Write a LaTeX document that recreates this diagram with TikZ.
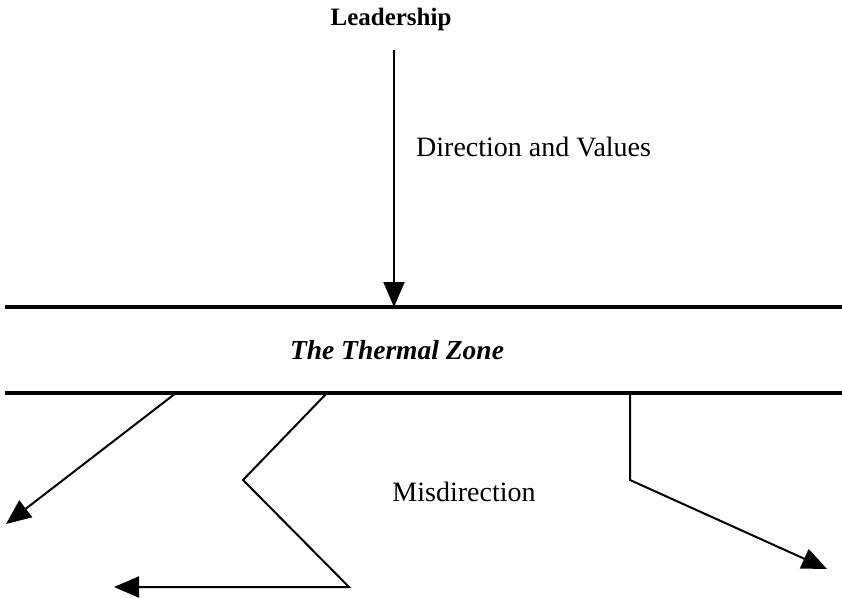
\documentclass[tikz,border=0pt]{standalone}
\usepackage{fontspec}
\setmainfont{Liberation Serif}
\usetikzlibrary{arrows.meta}

\begin{document}
\begin{tikzpicture}[x=1pt, y=-1pt, >={Triangle[length=25pt,width=21pt]},
    every node/.style={font=\fontsize{28}{32}\selectfont, inner sep=0pt},
    arrowline/.style={line width=2pt, line join=miter},
    zoneline/.style={line width=4pt}]
    \useasboundingbox (0,0) rectangle (842,597);

    \node[font=\bfseries\fontsize{25}{29}\selectfont] (lead) at (391,19) {Leadership};
    \node[anchor=west] (values) at (416,147) {Direction and Values};
    \node[font=\bfseries\itshape\fontsize{27.5}{31}\selectfont] (zone) at (397,350) {The Thermal Zone};
    \node (mis) at (464,492) {Misdirection};

    % the two borders of the zone
    \coordinate (topL) at (5,307);
    \coordinate (topR) at (842,307);
    \coordinate (botL) at (5,393);
    \coordinate (botR) at (842,393);
    \draw[zoneline] (topL) -- (topR);
    \draw[zoneline] (botL) -- (botR);

    % leadership gives direction
    \coordinate (leadfoot) at (394,50);
    \coordinate (leadhit) at (394,307);
    \draw[arrowline, ->] (leadfoot) -- (leadhit);

    % misdirection below the zone
    \coordinate (a1) at (176,393);
    \coordinate (a2) at (6,524);
    \draw[arrowline, ->] (a1) -- (a2);

    \coordinate (b1) at (327,393);
    \coordinate (b2) at (243,480);
    \coordinate (b3) at (349,587);
    \coordinate (b4) at (114,587);
    \draw[arrowline, ->] (b1) -- (b2) -- (b3) -- (b4);

    \coordinate (c1) at (630,393);
    \coordinate (c2) at (630,480);
    \coordinate (c3) at (827,569);
    \draw[arrowline, ->] (c1) -- (c2) -- (c3);
\end{tikzpicture}
\end{document}
